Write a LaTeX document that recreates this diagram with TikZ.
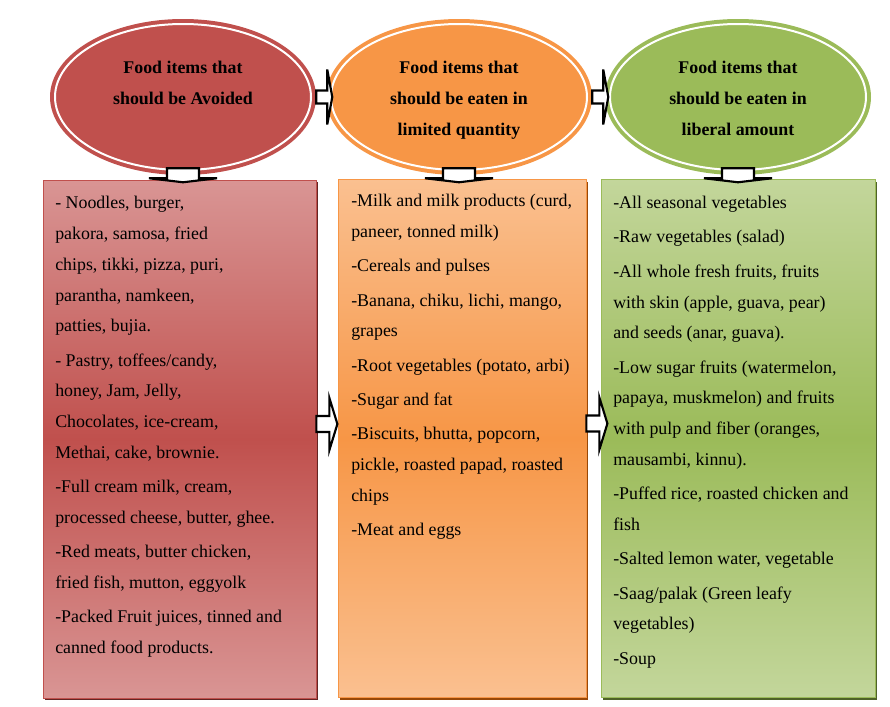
\documentclass[tikz,border=0pt]{standalone}
\usepackage{fontspec}
\setmainfont{Liberation Serif}
\usetikzlibrary{shapes.geometric,shadows}
\definecolor{avoidred}{HTML}{C0504D}
\definecolor{avoidpink}{HTML}{D99594}
\definecolor{avoiddark}{HTML}{632523}
\definecolor{limitorange}{HTML}{F79646}
\definecolor{limitpeach}{HTML}{FAC090}
\definecolor{limitdark}{HTML}{984807}
\definecolor{freegreen}{HTML}{9BBB59}
\definecolor{freelight}{HTML}{C3D69B}
\definecolor{freedark}{HTML}{4F6228}
\begin{document}
\begin{tikzpicture}[x=0.75pt,y=-0.75pt,
  head/.style={ellipse,minimum width=199.5pt,minimum height=117pt,inner sep=0pt},
  ring/.style={ellipse,draw=white,line width=1.5pt,minimum width=192pt,minimum height=109.5pt,inner sep=0pt},
  headtext/.style={font=\bfseries\fontsize{13.4}{23.25}\selectfont,align=center,anchor=north,inner sep=0pt},
  listbox/.style={rectangle,minimum height=388.5pt,inner sep=0pt,line width=0.6pt},
  listtext/.style={font=\fontsize{13.4}{23.1}\selectfont,align=left,anchor=north west,inner sep=0pt},
  blockarrow/.style={draw=black,fill=white,line width=1.6pt,line join=miter},
  downarrow/.pic={\path[blockarrow] (-16,0) -- (16,0) -- (16,10) -- (34,10) -- (0,14) -- (-34,10) -- (-16,10) -- cycle;},
  sidearrow/.pic={\path[blockarrow] (0,-6.5) -- (11,-6.5) -- (11,-27.5) -- (16,0) -- (11,27.5) -- (11,6.5) -- (0,6.5) -- cycle;},
  boxarrow/.pic={\path[blockarrow] (0,-8) -- (13,-8) -- (13,-26) -- (21,0) -- (13,26) -- (13,8) -- (0,8) -- cycle;}]
\useasboundingbox (0,0) rectangle (890,707);

% the three list boxes
\node[listbox,minimum width=204.75pt,draw=avoidred,top color=avoidpink,bottom color=avoidpink,middle color=avoidred,
  drop shadow={fill=avoiddark,opacity=1,shadow xshift=1.5pt,shadow yshift=-1.5pt}] (avoidbox) at (179.5,439) {};
\node[listbox,minimum width=186pt,draw=limitorange,top color=limitpeach,bottom color=limitpeach,middle color=limitorange,
  drop shadow={fill=limitdark,opacity=1,shadow xshift=1.5pt,shadow yshift=-1.5pt}] (limitbox) at (462,438.5) {};
\node[listbox,minimum width=205.5pt,draw=freegreen,top color=freelight,bottom color=freelight,middle color=freegreen,
  drop shadow={fill=freedark,opacity=1,shadow xshift=1.5pt,shadow yshift=-1.5pt}] (freebox) at (738,438.5) {};

\node[listtext] (avoidlist) at (55,196) {- Noodles, burger,\\pakora, samosa, fried\\chips, tikki, pizza, puri,\\parantha, namkeen,\\patties, bujia.\\[2.6pt]
- Pastry, toffees/candy,\\honey, Jam, Jelly,\\Chocolates, ice-cream,\\Methai, cake, brownie.\\[2.6pt]
-Full cream milk, cream,\\processed cheese, butter, ghee.\\[2.6pt]
-Red meats, butter chicken,\\fried fish, mutton, eggyolk\\[2.6pt]
-Packed Fruit juices, tinned and\\canned food products.};
\node[listtext] (limitlist) at (351,194) {-Milk and milk products (curd,\\paneer, tonned milk)\\[2.6pt]
-Cereals and pulses\\[2.6pt]
-Banana, chiku, lichi, mango,\\grapes\\[2.6pt]
-Root vegetables (potato, arbi)\\[2.6pt]
-Sugar and fat\\[2.6pt]
-Biscuits, bhutta, popcorn,\\pickle, roasted papad, roasted\\chips\\[2.6pt]
-Meat and eggs};
\node[listtext] (freelist) at (613,196) {-All seasonal vegetables\\[2.6pt]
-Raw vegetables (salad)\\[2.6pt]
-All whole fresh fruits, fruits\\with skin (apple, guava, pear)\\and seeds (anar, guava).\\[2.6pt]
-Low sugar fruits (watermelon,\\papaya, muskmelon) and fruits\\with pulp and fiber (oranges,\\mausambi, kinnu).\\[2.6pt]
-Puffed rice, roasted chicken and\\fish\\[2.6pt]
-Salted lemon water, vegetable\\[2.6pt]
-Saag/palak (Green leafy\\vegetables)\\[2.6pt]
-Soup};

% the three headings
\node[head,fill=avoidred] (avoid) at (183,97) {};
\node[ring] (avoidring) at (avoid.center) {};
\node[headtext] (avoidtitle) at (183,61) {Food items that\\should be Avoided};
\node[head,fill=limitorange] (limit) at (459,97) {};
\node[ring] (limitring) at (limit.center) {};
\node[headtext] (limittitle) at (459,61) {Food items that\\should be eaten in\\limited quantity};
\node[head,fill=freegreen] (free) at (738,97) {};
\node[ring] (freering) at (free.center) {};
\node[headtext] (freetitle) at (738,61) {Food items that\\should be eaten in\\liberal amount};

% block arrows
\pic at (avoid.east) {sidearrow};
\pic at (limit.east) {sidearrow};
\pic at ([yshift=5.25pt]avoid.south) {downarrow};
\pic at ([yshift=5.25pt]limit.south) {downarrow};
\pic at ([yshift=5.25pt]free.south) {downarrow};
\pic at ([yshift=11.25pt]avoidbox.east) {boxarrow};
\pic at ([yshift=11.25pt]limitbox.east) {boxarrow};
\end{tikzpicture}
\end{document}
